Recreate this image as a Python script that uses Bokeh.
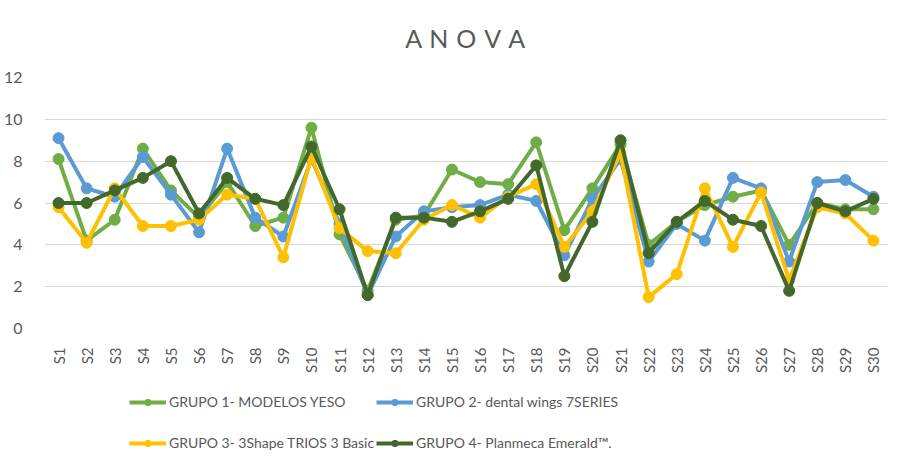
import math
from bokeh.plotting import figure
from bokeh.layouts import column
from bokeh.models import FactorRange, Range1d, Legend, LegendItem, SingleIntervalTicker, Title
from bokeh.embed import file_html
from bokeh.resources import INLINE

samples = [f"S{i}" for i in range(1, 31)]
grupo1 = [8.1, 4.2, 5.2, 8.6, 6.6, 5.3, 7.0, 4.9, 5.3, 9.6, 4.5, 1.8, 5.2, 5.4, 7.6,
          7.0, 6.9, 8.9, 4.7, 6.7, 8.8, 4.0, 5.1, 5.9, 6.3, 6.6, 4.0, 6.0, 5.7, 5.7]
grupo2 = [9.1, 6.7, 6.3, 8.2, 6.4, 4.6, 8.6, 5.3, 4.4, 8.1, 5.0, 1.6, 4.4, 5.6, 5.8,
          5.9, 6.4, 6.1, 3.5, 6.2, 8.1, 3.2, 5.0, 4.2, 7.2, 6.7, 3.2, 7.0, 7.1, 6.3]
grupo3 = [5.8, 4.1, 6.7, 4.9, 4.9, 5.2, 6.4, 6.2, 3.4, 8.2, 4.8, 3.7, 3.6, 5.2, 5.9,
          5.3, 6.3, 6.9, 3.9, 5.6, 8.4, 1.5, 2.6, 6.7, 3.9, 6.5, 2.3, 5.8, 5.5, 4.2]
grupo4 = [6.0, 6.0, 6.6, 7.2, 8.0, 5.5, 7.2, 6.2, 5.9, 8.7, 5.7, 1.6, 5.3, 5.3, 5.1,
          5.6, 6.2, 7.8, 2.5, 5.1, 9.0, 3.6, 5.1, 6.1, 5.2, 4.9, 1.8, 6.0, 5.6, 6.2]

names = ["GRUPO 1- MODELOS YESO", "GRUPO 2- dental wings 7SERIES",
         "GRUPO 3- 3Shape TRIOS 3 Basic", "GRUPO 4- Planmeca Emerald\u2122."]
colors = ["#70AD47", "#5B9BD5", "#FFC000", "#43682B"]
series = [grupo1, grupo2, grupo3, grupo4]

FONT = "Lato"
TXT = "#595959"

p = figure(frame_width=843, frame_height=251, output_backend="svg", toolbar_location=None,
           x_range=FactorRange(*samples, range_padding=0), y_range=Range1d(0, 12),
           min_border_left=35, min_border_right=11, min_border_top=0, min_border_bottom=0)
p.outline_line_color = None
p.background_fill_color = "white"
p.border_fill_color = "white"

p.title = Title(text="A \u200aN \u200aO \u200aV \u200aA", align="center", text_font=FONT,
                text_font_size="25px", text_color=TXT, text_font_style="normal",
                vertical_align="top", offset=-15, standoff=45)

for name, col, ys in zip(names, colors, series):
    p.line(samples, ys, line_color=col, line_width=4)
    p.scatter(samples, ys, size=11, fill_color=col, line_color=col)

p.xaxis.major_label_orientation = math.pi / 2
p.xaxis.axis_line_color = None
p.xaxis.major_tick_line_color = None
p.xaxis.minor_tick_line_color = None
p.xaxis.major_label_text_font = FONT
p.xaxis.major_label_text_font_size = "15px"
p.xaxis.major_label_text_color = TXT
p.xaxis.major_label_standoff = 13

p.yaxis.ticker = SingleIntervalTicker(interval=2)
p.yaxis.axis_line_color = None
p.yaxis.major_tick_line_color = None
p.yaxis.minor_tick_line_color = None
p.yaxis.major_label_text_font = FONT
p.yaxis.major_label_text_font_size = "16px"
p.yaxis.major_label_text_color = TXT
p.yaxis.major_label_standoff = 16

p.xgrid.grid_line_color = None
p.ygrid.grid_line_color = "#D9D9D9"
p.ygrid.grid_line_width = 1

# legend strip below the chart (its series are drawn outside its visible range)
lg = figure(width=889, height=80, output_backend="svg", toolbar_location=None,
            x_range=FactorRange(*samples), y_range=Range1d(100, 101),
            min_border_left=0, min_border_right=0, min_border_top=0, min_border_bottom=0)
lg.axis.visible = False
lg.grid.visible = False
lg.outline_line_color = None
lg.background_fill_color = "white"
lg.border_fill_color = "white"

items = []
for name, col, ys in zip(names, colors, series):
    r1 = lg.line(samples, ys, line_color=col, line_width=4)
    r2 = lg.scatter(samples, ys, size=10, fill_color=col, line_color=col)
    items.append(LegendItem(label=name, renderers=[r1, r2]))

common = dict(label_text_font=FONT, label_text_font_size="14px", label_text_color=TXT,
              glyph_width=37, glyph_height=16, label_height=16, spacing=24, label_standoff=3,
              border_line_color=None, background_fill_alpha=0, padding=0, margin=0,
              orientation="vertical")
leg1 = Legend(items=[items[0], items[2]], location=(85, 5), **common)
leg2 = Legend(items=[items[1], items[3]], location=(332, 5), **common)
lg.add_layout(leg1, "center")
lg.add_layout(leg2, "center")

open("out.html", "w").write(file_html(column(p, lg, spacing=0), INLINE))
